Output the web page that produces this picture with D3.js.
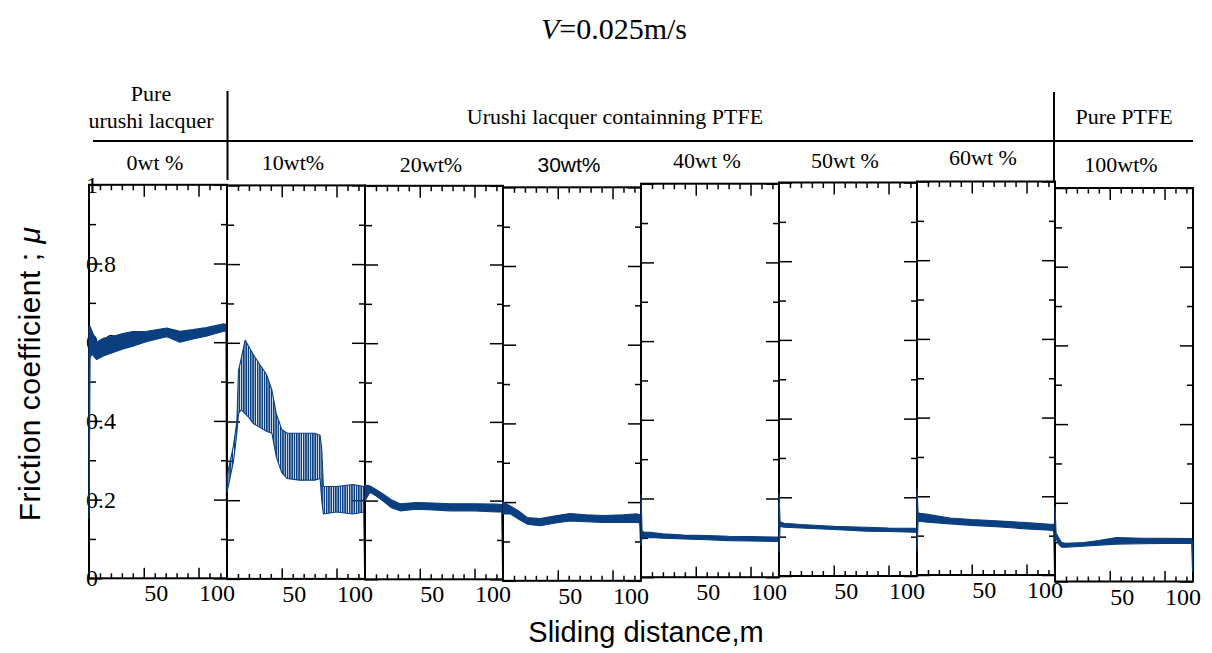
<!DOCTYPE html>
<html>
<head>
<meta charset="utf-8">
<script src="https://cdn.jsdelivr.net/npm/d3@7"></script>
<style>
  body { margin: 0; background: #fff; }
  svg text { font-family: "Liberation Serif", "Times New Roman", serif; fill: #000; }
  .sans { font-family: "Liberation Sans", Arial, sans-serif; }
</style>
</head>
<body>
<svg id="chart" width="1212" height="653"></svg>
<script>
// column labels
const groupLabels = ["Urushi lacquer containning PTFE", "Pure PTFE"];
const pureLabel = ["Pure", "urushi lacquer"];
const contentLabels = ["0wt %", "10wt%", "20wt%", "30wt%", "40wt %", "50wt %", "60wt %", "100wt%"];

// [sliding distance m, lower edge, upper edge] of the friction trace
const wt0 = [[0, 0.15, 0.64], [1, 0.56, 0.64], [2.5, 0.57, 0.63], [7, 0.556, 0.6], [13, 0.565, 0.61],
  [22, 0.574, 0.615], [31, 0.583, 0.622], [40, 0.59, 0.627], [53, 0.602, 0.628], [71, 0.614, 0.636],
  [83, 0.6, 0.628], [95, 0.608, 0.632], [107, 0.615, 0.637], [123, 0.628, 0.647], [125, 0.628, 0.645],
  [125.6, 0.03, 0.64]];
const wt10 = [[0, 0.22, 0.26], [3, 0.26, 0.30], [6, 0.30, 0.34], [9, 0.37, 0.40], [10.5, 0.42, 0.53],
  [13, 0.43, 0.56], [16.5, 0.42, 0.607], [20, 0.41, 0.59], [24, 0.395, 0.57], [30, 0.385, 0.545],
  [36, 0.375, 0.52], [41, 0.37, 0.48], [45, 0.31, 0.42], [50, 0.27, 0.38], [55, 0.255, 0.37],
  [66, 0.251, 0.37], [80, 0.251, 0.37], [85, 0.255, 0.365], [86.5, 0.2, 0.33], [88, 0.165, 0.235],
  [100, 0.17, 0.235], [115, 0.165, 0.24], [124.8, 0.17, 0.235], [125.6, 0.02, 0.23]];
const wt20 = [[0, 0.2, 0.24], [4.6, 0.221, 0.237], [10, 0.212, 0.228], [16.5, 0.199, 0.217], [24, 0.182, 0.202],
  [32, 0.174, 0.192], [47, 0.178, 0.195], [62, 0.176, 0.194], [78, 0.174, 0.192], [100, 0.174, 0.192],
  [120, 0.171, 0.191], [124.8, 0.171, 0.19], [125.6, 0.02, 0.19]];
const wt30 = [[0, 0.17, 0.2], [6.6, 0.17, 0.19], [14, 0.157, 0.178], [22, 0.144, 0.161], [34, 0.14, 0.158],
  [48, 0.147, 0.165], [61, 0.152, 0.171], [76, 0.15, 0.168], [92, 0.148, 0.166], [110, 0.148, 0.168],
  [122, 0.148, 0.17], [124.8, 0.147, 0.168], [125.6, 0.09, 0.17]];
const wt40 = [[0, 0.08, 0.21], [1, 0.102, 0.118], [2.4, 0.1, 0.115], [8, 0.101, 0.114], [20, 0.099, 0.11],
  [39, 0.097, 0.107], [60, 0.095, 0.106], [80, 0.093, 0.104], [100, 0.092, 0.103], [121, 0.091, 0.102],
  [125.6, 0.091, 0.102]];
const wt50 = [[0, 0.06, 0.21], [1, 0.126, 0.138], [4.6, 0.124, 0.134], [20, 0.122, 0.131], [50, 0.118, 0.126],
  [80, 0.114, 0.124], [100, 0.113, 0.122], [123, 0.111, 0.121], [125.6, 0.111, 0.121]];
const wt60 = [[0, 0.06, 0.22], [1, 0.137, 0.158], [3, 0.136, 0.157], [10, 0.134, 0.154], [30, 0.13, 0.145],
  [50, 0.126, 0.141], [76, 0.122, 0.137], [100, 0.117, 0.133], [121.6, 0.114, 0.129], [124.8, 0.112, 0.129],
  [125.6, 0.0, 0.13]];
const wt100 = [[0, 0.1, 0.19], [1, 0.11, 0.123], [3, 0.096, 0.113], [6, 0.087, 0.099], [10, 0.087, 0.097],
  [26, 0.09, 0.099], [40, 0.092, 0.104], [56, 0.095, 0.112], [80, 0.096, 0.11], [100, 0.097, 0.11],
  [123, 0.097, 0.109], [124.8, 0.097, 0.109], [125.6, 0.025, 0.1]];
const traces = [wt0, wt10, wt20, wt30, wt40, wt50, wt60, wt100];

const xMinorTicks = [10, 20, 30, 40, 60, 70, 80, 90, 110, 120];
const xMajorTicks = [50, 100];
const yMinorTicks = [0.1, 0.3, 0.5, 0.7, 0.9];
const yMajorTicks = [0, 0.2, 0.4, 0.6, 0.8, 1];

// layout (the panels of the original were pasted slightly out of line)
const panelLeft = [89, 227, 365, 503, 641, 779, 917, 1055];
const panelTop = [184.8, 185.4, 185.8, 187.3, 183.7, 182.5, 181.5, 188];
const labelBase = [170, 170, 172, 172, 168, 168, 165, 172];
const panelW = 138, panelH = 393.5;
const blue = "#0b3f80";

const svg = d3.select("#chart");

svg.append("defs").append("pattern")
  .attr("id", "stripes").attr("patternUnits", "userSpaceOnUse")
  .attr("width", 2.3).attr("height", 10)
  .append("rect").attr("width", 1.6).attr("height", 10).attr("fill", blue);

// title
svg.append("text")
  .attr("x", 614).attr("y", 39).attr("text-anchor", "middle").attr("font-size", 30)
  .call(t => {
    t.append("tspan").attr("font-style", "italic").text("V");
    t.append("tspan").text("=0.025m/s");
  });

// header table
const hdr = svg.append("g");
hdr.append("line").attr("x1", 93).attr("x2", 1193).attr("y1", 141).attr("y2", 141)
  .attr("stroke", "#000").attr("stroke-width", 2);
hdr.append("line").attr("x1", 227.5).attr("x2", 227.5).attr("y1", 91).attr("y2", 180)
  .attr("stroke", "#000").attr("stroke-width", 2);
hdr.append("line").attr("x1", 1054).attr("x2", 1054).attr("y1", 92).attr("y2", 183)
  .attr("stroke", "#000").attr("stroke-width", 2);
hdr.append("text").attr("x", 151).attr("y", 101).attr("text-anchor", "middle").attr("font-size", 22).text(pureLabel[0]);
hdr.append("text").attr("x", 151).attr("y", 128).attr("text-anchor", "middle").attr("font-size", 22).text(pureLabel[1]);
hdr.append("text").attr("x", 615).attr("y", 124).attr("text-anchor", "middle").attr("font-size", 22).text(groupLabels[0]);
hdr.append("text").attr("x", 1124).attr("y", 124).attr("text-anchor", "middle").attr("font-size", 22).text(groupLabels[1]);
contentLabels.forEach((lab, i) => {
  hdr.append("text")
    .attr("class", i === 3 ? "sans" : null)
    .attr("x", panelLeft[i] + panelW / 2 - 3).attr("y", labelBase[i])
    .attr("text-anchor", "middle").attr("font-size", i === 3 ? 21 : 22)
    .text(lab);
});

const x = d3.scaleLinear().domain([0, 126]).range([0, panelW]);
const y = d3.scaleLinear().domain([0, 1]).range([panelH, 0]);
const area = d3.area().x(d => x(d[0])).y0(d => y(d[1])).y1(d => y(d[2]));

function ticks(sel) {
  sel.select(".domain").remove();
  sel.selectAll(".tick line").attr("stroke", "#000").attr("stroke-width", 1.5);
}

traces.forEach((trace, i) => {
  const g = svg.append("g").attr("transform", `translate(${panelLeft[i]},${panelTop[i]})`);

  // bottom and top axes, ticks pointing inward
  g.append("g").attr("transform", `translate(0,${panelH})`)
    .call(d3.axisBottom(x).tickValues(xMinorTicks).tickSizeInner(-5).tickSizeOuter(0).tickFormat(""))
    .call(ticks);
  g.append("g").attr("transform", `translate(0,${panelH})`)
    .call(d3.axisBottom(x).tickValues(xMajorTicks).tickSizeInner(-10.5).tickSizeOuter(0).tickPadding(6).tickFormat(d3.format("d")))
    .call(ticks)
    .call(a => a.selectAll("text").attr("text-anchor", "start").attr("font-size", 24)
      .attr("font-family", "Liberation Serif, Times New Roman, serif").attr("fill", "#000"));
  g.append("g")
    .call(d3.axisTop(x).tickValues(xMinorTicks).tickSizeInner(-5.5).tickSizeOuter(0).tickFormat(""))
    .call(ticks);
  g.append("g")
    .call(d3.axisTop(x).tickValues(xMajorTicks).tickSizeInner(-12).tickSizeOuter(0).tickFormat(""))
    .call(ticks);

  // left and right axes, ticks pointing inward
  g.append("g").call(d3.axisRight(y).tickValues(yMinorTicks).tickSizeInner(7).tickSizeOuter(0).tickFormat("")).call(ticks);
  g.append("g").call(d3.axisRight(y).tickValues(yMajorTicks).tickSizeInner(13).tickSizeOuter(0).tickFormat("")).call(ticks);
  g.append("g").attr("transform", `translate(${panelW},0)`)
    .call(d3.axisLeft(y).tickValues(yMinorTicks).tickSizeInner(6).tickSizeOuter(0).tickFormat("")).call(ticks);
  g.append("g").attr("transform", `translate(${panelW},0)`)
    .call(d3.axisLeft(y).tickValues(yMajorTicks).tickSizeInner(13).tickSizeOuter(0).tickFormat("")).call(ticks);

  g.append("rect").attr("width", panelW).attr("height", panelH)
    .attr("fill", "none").attr("stroke", "#000").attr("stroke-width", 2);

  if (i === 0) {
    g.append("g")
      .call(d3.axisRight(y).tickValues(yMajorTicks).tickSize(0).tickPadding(-3).tickFormat(d3.format("")))
      .call(a => a.select(".domain").remove())
      .call(a => a.selectAll("text").attr("text-anchor", "start").attr("font-size", 24)
        .attr("font-family", "Liberation Serif, Times New Roman, serif").attr("fill", "#000"));
  }

  // friction trace
  g.append("path").datum(trace)
    .attr("d", area)
    .attr("fill", i === 1 ? "url(#stripes)" : blue)
    .attr("stroke", blue).attr("stroke-width", 1.1).attr("stroke-linejoin", "bevel");
});

// axis titles
svg.append("text").attr("class", "sans")
  .attr("transform", "translate(40,374) rotate(-90)")
  .attr("text-anchor", "middle").attr("font-size", 30).attr("letter-spacing", 0.5)
  .call(t => {
    t.append("tspan").text("Friction coefficient ; ");
    t.append("tspan").attr("font-style", "italic").text("μ");
  });
svg.append("text").attr("class", "sans")
  .attr("x", 646).attr("y", 642).attr("text-anchor", "middle").attr("font-size", 29)
  .text("Sliding distance,m");
</script>
</body>
</html>
